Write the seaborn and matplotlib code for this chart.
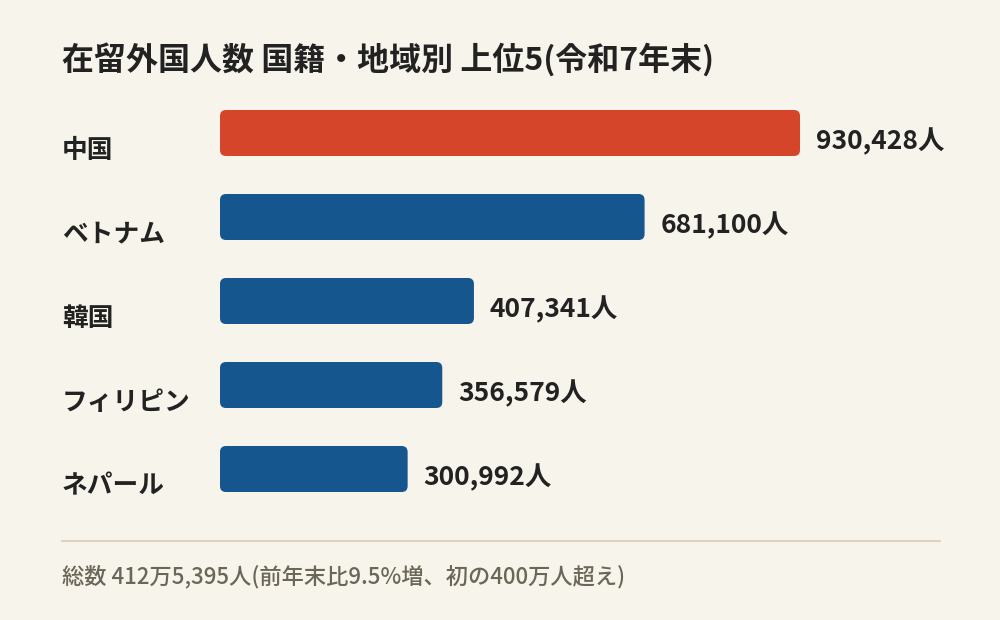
import matplotlib
matplotlib.use("Agg")
import matplotlib.pyplot as plt
import matplotlib.transforms as mtransforms
from matplotlib.lines import Line2D
from matplotlib.patches import FancyBboxPatch
import pandas as pd
import seaborn as sns

# data
countries = ["中国", "ベトナム", "韓国", "フィリピン", "ネパール"]
residents = [930428, 681100, 407341, 356579, 300992]
bar_colors = ["#D5452A", "#15568F", "#15568F", "#15568F", "#15568F"]

title = "在留外国人数 国籍・地域別 上位5(令和7年末)"
note = "総数 412万5,395人(前年末比9.5%増、初の400万人超え)"

BG = "#F7F4EC"
TEXT = "#222222"
NOTE = "#6B6657"
RULE = "#DDD3BB"

W, H = 1000, 620  # canvas in px

sns.set_theme(style="white")
plt.rcParams["font.family"] = ["Noto Sans CJK JP", "DejaVu Sans"]

fig = plt.figure(figsize=(W / 100, H / 100), dpi=100, facecolor=BG)
ax_left, ax_top, ax_w, ax_h = 220, 110, 720, 382
ax = fig.add_axes([ax_left / W, 1 - (ax_top + ax_h) / H, ax_w / W, ax_h / H])
ax.set_facecolor(BG)

df = pd.DataFrame({"country": countries, "residents": residents})
bar_width = 46 / 84
sns.barplot(
    data=df, x="residents", y="country", hue="country",
    palette=dict(zip(countries, bar_colors)), width=bar_width,
    saturation=1, legend=False, ax=ax,
)

xmax = 1.155e6
ax.set_xlim(0, xmax)
ax.set_ylim(len(countries) - 1 + bar_width / 2, -bar_width / 2)
ax.axis("off")

px_x = xmax / ax_w
px_y = (len(countries) - 1 + bar_width) / ax_h

# swap the plain rectangles for rounded ones
for patch in list(ax.patches):
    x, y = patch.get_x(), patch.get_y()
    w, h = patch.get_width(), patch.get_height()
    color = patch.get_facecolor()
    patch.remove()
    ax.add_patch(FancyBboxPatch(
        (x, y), w, h,
        boxstyle=f"round,pad=0,rounding_size={6 * px_x}",
        mutation_aspect=px_y / px_x,
        facecolor=color, edgecolor="none",
    ))

label_tf = mtransforms.blended_transform_factory(fig.transFigure, ax.transData)
for i, (name, val) in enumerate(zip(countries, residents)):
    ax.text(62 / W, i + 17 * px_y, name, transform=label_tf, ha="left", va="center",
            fontsize=18.5, fontweight="bold", color=TEXT)
    ax.text(val + 16 * px_x, i + 9 * px_y, f"{val:,}人", ha="left", va="center",
            fontsize=19, fontweight="bold", color=TEXT)

fig.text(62 / W, 1 - 60 / H, title, ha="left", va="center",
         fontsize=23, fontweight="bold", color=TEXT)
fig.add_artist(Line2D([62 / W, 940 / W], [1 - 541 / H] * 2, color=RULE, lw=1.5))
fig.text(62 / W, 1 - 577 / H, note, ha="left", va="center",
         fontsize=16, fontweight="medium", color=NOTE)

fig.savefig("out.png", dpi=100, facecolor=BG)
